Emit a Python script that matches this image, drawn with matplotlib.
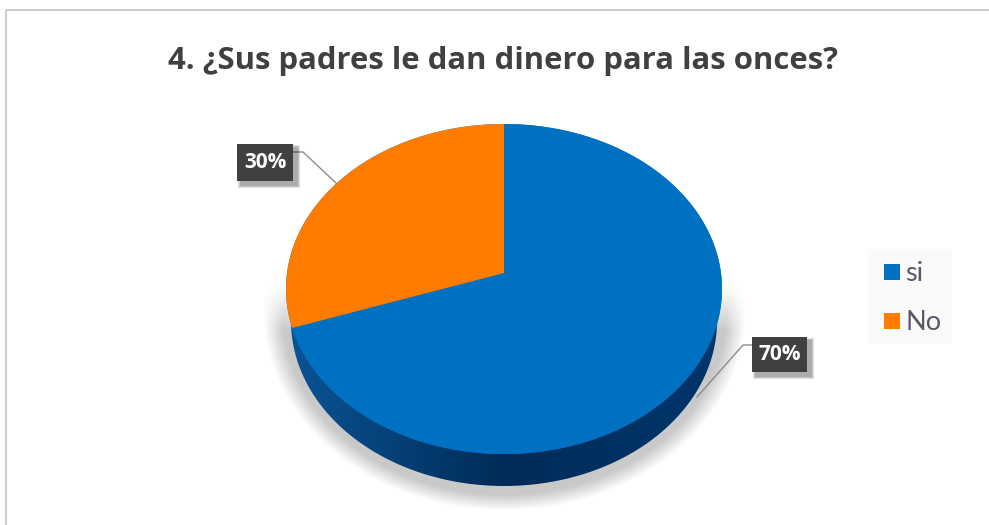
import numpy as np
import matplotlib
matplotlib.use('Agg')
import matplotlib.pyplot as plt
from matplotlib.patches import Polygon, Rectangle

# datos del grafico
categorias = ['si', 'No']
valores = [70, 30]
etiquetas = ['70%', '30%']
colores = ['#0070C0', '#FF7C00']
titulo = '4. ¿Sus padres le dan dinero para las onces?'

# geometria en pixeles de la imagen
W, H = 989, 525
CX, CY = 504, 289     # centro de la elipse superior
RX, RY = 218, 165
VY = 273              # vertice de las porciones (perspectiva)
PERSP = 1.055
BASE_CY, BASE_RX = 321, 213   # elipse inferior, algo mas estrecha


def borde(t):
    return CX + RX * np.cos(t), CY - RY * np.sin(t)


def angulo_proyectado(a):
    # rayo desde el vertice hasta la elipse
    dx, dy = np.cos(a), np.sin(a) * PERSP
    n = np.hypot(dx, dy)
    dx, dy = dx / n, dy / n
    oy = (CY - VY) / RY
    b = oy * dy
    s = -b + np.sqrt(b * b - (oy * oy - 1))
    return np.arctan2(oy + s * dy, s * dx)


fig = plt.figure(figsize=(W / 100, H / 100), dpi=100)
ax = fig.add_axes([0, 0, 1, 1])
ax.set_xlim(0, W)
ax.set_ylim(H, 0)
ax.axis('off')

# marco del grafico
ax.plot([5.5, 5.5, W], [H, 10, 10], color='#c4c4c4', lw=1.2)

# sombra difusa
yy, xx = np.mgrid[0:H, 0:W]
d = np.sqrt(((xx - CX) / 241) ** 2 + ((yy - 312) / 198) ** 2)
alfa = np.clip((1.0 - d) / 0.08, 0, 1) * np.clip((yy - 285) / 45, 0, 1)
img = np.zeros((H, W, 4))
img[..., :3] = 0.79
img[..., 3] = alfa
ax.imshow(img, extent=[0, W, H, 0], zorder=1, aspect='auto', interpolation='bilinear')

# pared lateral con degradado
t = np.linspace(0, 2 * np.pi, 300)
pared = Polygon(np.c_[CX + BASE_RX * np.cos(t), BASE_CY - RY * np.sin(t)], closed=True,
                fc='none', ec='none', zorder=2)
ax.add_patch(pared)
u = np.linspace(0, 1, 440)
grad = np.stack([np.interp(u, [0, 0.5, 1], [10, 0, 0]),
                 np.interp(u, [0, 0.5, 1], [84, 44, 54]),
                 np.interp(u, [0, 0.5, 1], [150, 88, 108])], axis=-1)[None, :, :] / 255
im = ax.imshow(grad, extent=[CX - RX, CX + RX, H, 0], zorder=2, aspect='auto')
im.set_clip_path(pared)
ax.set_xlim(0, W)
ax.set_ylim(H, 0)

# fondo de la cara superior, evita huecos con la pared
x, y = borde(t)
ax.add_patch(Polygon(np.c_[x, y], closed=True, fc=colores[0], ec='none', zorder=2.5))

# porciones a partir de los valores (desde arriba en sentido horario)
ini = np.pi / 2
for val, col in zip(valores, colores):
    fin = ini - 2 * np.pi * val / sum(valores)
    a = angulo_proyectado(ini)
    b = angulo_proyectado(fin)
    if b > a:
        b -= 2 * np.pi
    tt = np.linspace(a, b, 300)
    px, py = borde(tt)
    ax.add_patch(Polygon(np.r_[[[CX, VY]], np.c_[px, py]], closed=True, fc=col,
                         ec='none', zorder=3))
    ini = fin

# etiquetas con linea guia
cajas = [(752, 337, 55, 35), (237, 144, 56, 37)]
guias = [([752, 743, 697], [345, 345, 397]), ([293, 303, 336], [152, 152, 183])]
for etq, (bx, by, bw, bh), (gx, gy) in zip(etiquetas, cajas, guias):
    ax.plot(gx, gy, color='#8c8c8c', lw=1, zorder=4)
    for k in range(3, 0, -1):
        ax.add_patch(Rectangle((bx + 4 - k, by + 4 - k), bw + 2 * k, bh + 2 * k, fc='#000000',
                               alpha=0.12, ec='none', zorder=5))
    ax.add_patch(Rectangle((bx, by), bw, bh, fc='#404040', ec='none', zorder=6))
    ax.text(bx + bw / 2, by + bh / 2 + 0.5, etq, color='white', fontsize=15, fontweight='bold',
            family='Open Sans', ha='center', va='center', zorder=7)

# leyenda
ax.add_patch(Rectangle((868, 249), 84, 95, fc='#fafafa', ec='none', zorder=1))
for cat, col, ly in zip(categorias, colores, [272, 320.5]):
    ax.add_patch(Rectangle((884, ly - 8), 16, 16, fc=col, ec='none', zorder=2))
    ax.text(905, ly + 9, cat, color='#585868', fontsize=19.5, family='Lato', ha='left',
            va='baseline', zorder=2)

ax.text(502.5, 61.5, titulo, color='#404040', fontsize=22.4, fontweight='bold', family='Open Sans',
        ha='center', va='center')

fig.savefig('out.png', dpi=100)
